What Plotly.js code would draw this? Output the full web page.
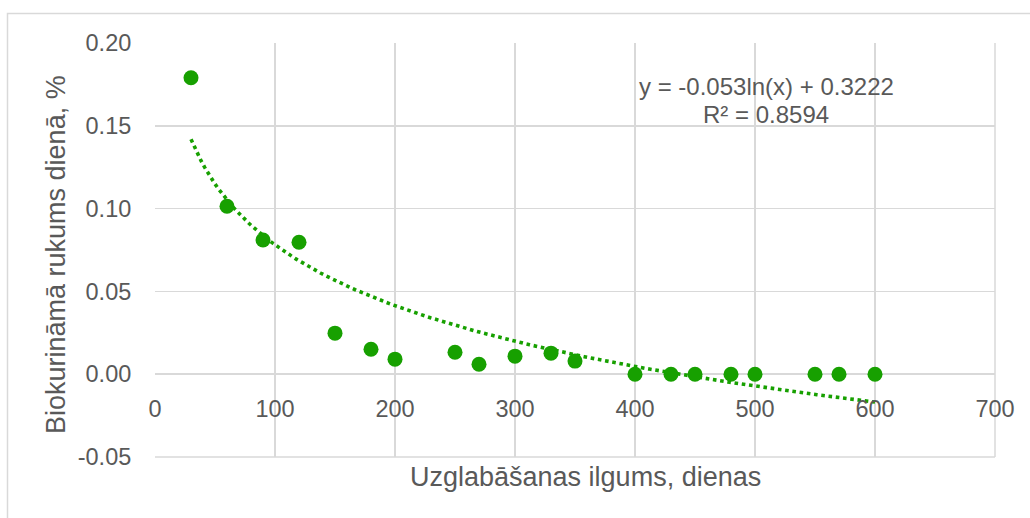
<!DOCTYPE html>
<html>
<head>
<meta charset="utf-8">
<script src="https://cdn.plot.ly/plotly-3.0.1.min.js"></script>
<style>
  html, body { margin: 0; padding: 0; background: #ffffff; }
  #chart { width: 1030px; height: 518px; }
</style>
</head>
<body>
<div id="chart"></div>
<script>
// Data
const storageDays = [30, 60, 90, 120, 150, 180, 200, 250, 270, 300, 330, 350, 400, 430, 450, 480, 500, 550, 570, 600];
const dailyLoss   = [0.179, 0.1014, 0.081, 0.0797, 0.0248, 0.0151, 0.0091, 0.0133, 0.006, 0.0109, 0.0127, 0.0079, 0, 0, 0, 0, 0, 0, 0, 0];

// Logarithmic trendline as printed on the chart: y = a ln(x) + b
const trendA = -0.053;
const trendB = 0.3222;
const equationText = 'y = -0.053ln(x) + 0.3222';
const r2Text = 'R² = 0.8594';
const xTitle = 'Uzglabāšanas ilgums, dienas';
const yTitle = 'Biokurināmā rukums dienā, %';

const xTicks = [0, 100, 200, 300, 400, 500, 600, 700];
const yTicks = [-0.05, 0, 0.05, 0.10, 0.15, 0.20];
const yTickText = ['-0.05', '0.00', '0.05', '0.10', '0.15', '0.20'];

// trendline sampled across the data range
const trendX = [];
const trendY = [];
const xMin = Math.min(...storageDays), xMax = Math.max(...storageDays);
for (let i = 0; i <= 200; i++) {
  const x = xMin + (xMax - xMin) * i / 200;
  trendX.push(x);
  trendY.push(trendA * Math.log(x) + trendB);
}

const green = '#17A000';
const textGrey = '#595959';
const gridGrey = '#d9d9d9';
const font = 'Liberation Sans, Arial, sans-serif';

// pixel helpers for paper-referenced overlays (plot area: x 155..995, y 43..457)
const px = v => (v - 155) / 840;
const py = v => (457 - v) / 414;

const traces = [
  {
    x: trendX, y: trendY, type: 'scatter', mode: 'lines',
    line: { color: green, width: 3.6, dash: '3.6px,3.7px' },
    hoverinfo: 'skip', showlegend: false
  },
  {
    x: storageDays, y: dailyLoss, type: 'scatter', mode: 'markers',
    marker: { color: green, size: 15 },
    showlegend: false
  }
];

const layout = {
  width: 1030, height: 518,
  margin: { l: 155, r: 35, t: 43, b: 61 },
  paper_bgcolor: '#ffffff', plot_bgcolor: '#ffffff',
  font: { family: font, color: textGrey, size: 23.5 },
  xaxis: {
    range: [0, 700], tickvals: xTicks, ticktext: xTicks.map(String),
    showgrid: true, gridcolor: gridGrey, gridwidth: 1.5,
    zeroline: false, showline: false,
    anchor: 'free', position: 0.2,
    ticks: 'outside', ticklen: 14, tickcolor: 'rgba(0,0,0,0)',
    tickfont: { size: 23.5, color: textGrey, family: font },
    automargin: false, fixedrange: true
  },
  yaxis: {
    range: [-0.05, 0.2], tickvals: yTicks, ticktext: yTickText,
    showgrid: true, gridcolor: gridGrey, gridwidth: 1.5,
    zeroline: true, zerolinecolor: gridGrey, zerolinewidth: 1.5,
    showline: false,
    ticks: 'outside', ticklen: 18, tickcolor: 'rgba(0,0,0,0)',
    tickfont: { size: 23.5, color: textGrey, family: font },
    automargin: false, fixedrange: true
  },
  annotations: [
    {
      xref: 'paper', yref: 'paper', x: px(766), y: py(86),
      xanchor: 'center', yanchor: 'middle', showarrow: false,
      text: equationText, font: { size: 24, color: textGrey, family: font }
    },
    {
      xref: 'paper', yref: 'paper', x: px(766), y: py(114),
      xanchor: 'center', yanchor: 'middle', showarrow: false,
      text: r2Text, font: { size: 24, color: textGrey, family: font }
    },
    {
      xref: 'paper', yref: 'paper', x: px(585), y: py(477),
      xanchor: 'center', yanchor: 'middle', showarrow: false,
      text: xTitle, font: { size: 27, color: textGrey, family: font }
    },
    {
      xref: 'paper', yref: 'paper', x: px(56), y: py(255),
      xanchor: 'center', yanchor: 'middle', showarrow: false, textangle: -90,
      text: yTitle, font: { size: 27, color: textGrey, family: font }
    }
  ],
  shapes: [
    {
      type: 'rect', xref: 'paper', yref: 'paper', layer: 'below',
      x0: px(7.5), x1: px(1040), y0: py(530), y1: py(13.5),
      line: { color: '#d9d9d9', width: 1.5 }
    },
    {
      type: 'line', xref: 'paper', yref: 'paper', layer: 'below',
      x0: 1, x1: 1, y0: 0, y1: 1, line: { color: gridGrey, width: 1.5 }
    },
    {
      type: 'line', xref: 'paper', yref: 'paper', layer: 'below',
      x0: 0, x1: 1, y0: 0, y1: 0, line: { color: gridGrey, width: 1.5 }
    }
  ]
};

Plotly.newPlot('chart', traces, layout, { displayModeBar: false, staticPlot: true });
</script>
</body>
</html>
